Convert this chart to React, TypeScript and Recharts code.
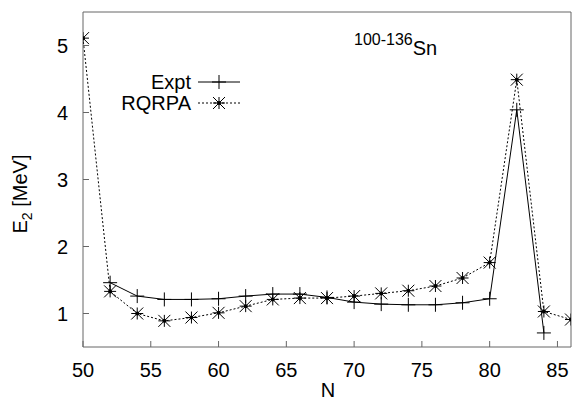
import { LineChart, Line, XAxis, YAxis } from "recharts";

// neutron numbers and E2 energies (MeV)
const nExpt = [52, 54, 56, 58, 60, 62, 64, 66, 68, 70, 72, 74, 76, 78, 80, 82, 84];
const eExpt = [1.46, 1.26, 1.21, 1.21, 1.22, 1.26, 1.29, 1.29, 1.24, 1.17, 1.14, 1.13, 1.13, 1.16, 1.22, 4.04, 0.71];

const nCalc = [50, 52, 54, 56, 58, 60, 62, 64, 66, 68, 70, 72, 74, 76, 78, 80, 82, 84, 86];
const eCalc = [5.11, 1.33, 1.0, 0.89, 0.94, 1.01, 1.11, 1.21, 1.23, 1.23, 1.26, 1.3, 1.34, 1.41, 1.53, 1.76, 4.49, 1.03, 0.91];

const xTicks = [50, 55, 60, 65, 70, 75, 80, 85];
const yTicks = [1, 2, 3, 4, 5];

const expt = nExpt.map((n, i) => ({ n, e: eExpt[i] }));
const calc = nCalc.map((n, i) => ({ n, e: eCalc[i] }));

const FONT = "'Liberation Sans', Arial, sans-serif";
const FRAME = "#666";
const W = 574;
const H = 406;
// plot box: x 83..571, y 12..347 (axes take 1px each)
const PL = 83;
const PR = 571;
const PT = 12;
const PB = 347;
const M = { top: PT - 1, right: W - PR - 1, left: PL - 1, bottom: H - PB - 1 };

function Plus({ cx, cy, size = 7 }: any) {
  return (
    <g stroke="#000" strokeWidth={1}>
      <line x1={cx - size} y1={cy} x2={cx + size} y2={cy} />
      <line x1={cx} y1={cy - size} x2={cx} y2={cy + size} />
    </g>
  );
}

function Star({ cx, cy, size = 6 }: any) {
  const d = size;
  return (
    <g stroke="#000" strokeWidth={1}>
      <line x1={cx - size} y1={cy} x2={cx + size} y2={cy} />
      <line x1={cx} y1={cy - size} x2={cx} y2={cy + size} />
      <line x1={cx - d} y1={cy - d} x2={cx + d} y2={cy + d} />
      <line x1={cx - d} y1={cy + d} x2={cx + d} y2={cy - d} />
      <circle cx={cx} cy={cy} r={2} fill="#000" stroke="none" />
    </g>
  );
}

export default function App() {
  return (
    <div style={{ position: "absolute", left: 0, top: 0, width: W, height: H, background: "#fff" }}>
      <LineChart width={W} height={H} margin={M}>
        <XAxis
          xAxisId="b"
          type="number"
          dataKey="n"
          domain={[50, 86]}
          ticks={xTicks}
          height={1}
          allowDataOverflow
          axisLine={{ stroke: FRAME }}
          tickLine={false}
          tickSize={0}
          tick={(p: any) => (
            <g key={"xb" + p.payload.value}>
              <line x1={p.x} x2={p.x} y1={PB} y2={PB - 6} stroke={FRAME} />
              <text x={p.x} y={PB + 30} textAnchor="middle" fontFamily={FONT} fontSize={20} fill="#000">
                {p.payload.value}
              </text>
            </g>
          )}
        />
        <XAxis
          xAxisId="t"
          orientation="top"
          type="number"
          dataKey="n"
          domain={[50, 86]}
          ticks={xTicks}
          height={1}
          axisLine={{ stroke: FRAME }}
          tickLine={false}
          tickSize={0}
          tick={(p: any) => (
            <line key={"xt" + p.payload.value} x1={p.x} x2={p.x} y1={PT} y2={PT + 6} stroke={FRAME} />
          )}
        />
        <YAxis
          yAxisId="l"
          type="number"
          domain={[0.5, 5.5]}
          ticks={yTicks}
          width={1}
          axisLine={{ stroke: FRAME }}
          tickLine={false}
          tickSize={0}
          tick={(p: any) => (
            <g key={"yl" + p.payload.value}>
              <line x1={PL} x2={PL + 6} y1={p.y} y2={p.y} stroke={FRAME} />
              <text x={PL - 15} y={p.y + 7} textAnchor="end" fontFamily={FONT} fontSize={20} fill="#000">
                {p.payload.value}
              </text>
            </g>
          )}
        />
        <YAxis
          yAxisId="r"
          orientation="right"
          type="number"
          domain={[0.5, 5.5]}
          ticks={yTicks}
          width={1}
          axisLine={{ stroke: FRAME }}
          tickLine={false}
          tickSize={0}
          tick={(p: any) => (
            <line key={"yr" + p.payload.value} x1={PR} x2={PR - 6} y1={p.y} y2={p.y} stroke={FRAME} />
          )}
        />
        <Line
          xAxisId="b"
          yAxisId="l"
          data={calc}
          dataKey="e"
          stroke="#000"
          strokeWidth={1}
          strokeDasharray="2 2"
          isAnimationActive={false}
          dot={(p: any) => <Star key={"c" + p.index} cx={p.cx} cy={p.cy} />}
        />
        <Line
          xAxisId="b"
          yAxisId="l"
          data={expt}
          dataKey="e"
          stroke="#000"
          strokeWidth={1}
          isAnimationActive={false}
          dot={(p: any) => <Plus key={"x" + p.index} cx={p.cx} cy={p.cy} />}
        />
      </LineChart>
      <svg
        width={W}
        height={H}
        style={{ position: "absolute", left: 0, top: 0, pointerEvents: "none" }}
        fontFamily={FONT}
      >
        {/* legend */}
        <text x={191} y={89} textAnchor="end" fontSize={20}>Expt</text>
        <line x1={198} x2={240} y1={82} y2={82} stroke="#000" />
        <Plus cx={219} cy={82} />
        <text x={191} y={110} textAnchor="end" fontSize={20}>RQRPA</text>
        <line x1={198} x2={240} y1={103} y2={103} stroke="#000" strokeDasharray="2 2" />
        <Star cx={219} cy={103} />
        {/* nucleus label */}
        <text x={354} y={55} fontSize={20}>
          <tspan fontSize={16} dy={-10}>100-136</tspan>
          <tspan dy={10}>Sn</tspan>
        </text>
        {/* axis titles */}
        <text x={328} y={397} textAnchor="middle" fontSize={20}>N</text>
        <text transform="translate(27,194) rotate(-90)" textAnchor="middle" fontSize={20}>
          E<tspan fontSize={14} dy={5}>2</tspan>
          <tspan dy={-5}> [MeV]</tspan>
        </text>
      </svg>
    </div>
  );
}
